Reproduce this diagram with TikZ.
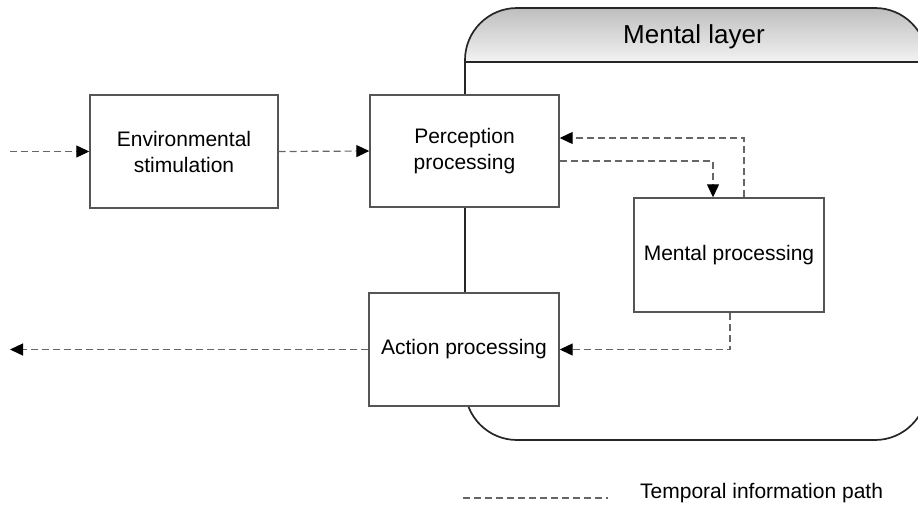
\documentclass[tikz,border=0pt]{standalone}
\usepackage{fontspec}
\setmainfont{Liberation Sans}
\usetikzlibrary{arrows.meta}

\definecolor{boxline}{HTML}{555555}
\definecolor{pathline}{HTML}{666666}
\definecolor{headtop}{HTML}{BEBEBE}
\definecolor{headbot}{HTML}{F3F3F3}

\tikzset{
  procbox/.style={draw=boxline, line width=1.4pt, fill=white, inner sep=0pt,
    align=center, font=\fontsize{21}{26}\selectfont},
  flow/.style={draw=pathline, line width=1.2pt, dash pattern=on 7pt off 4pt,
    -{Triangle[length=13pt,width=12pt,color=black]}},
  legendline/.style={draw=pathline, line width=1.1pt, dash pattern=on 7pt off 4pt},
  layerline/.style={draw=black!85, line width=1.7pt},
}

\begin{document}
\begin{tikzpicture}[x=1pt, y=-1pt]
  \useasboundingbox (0,0) rectangle (918,506);
  \fill[white] (0,0) rectangle (918,506);

  % mental layer container with shaded header
  \begin{scope}
    \clip[rounded corners=52pt] (465,8) rectangle (927,440);
    \shade[top color=headtop, bottom color=headbot] (465,8) rectangle (927,62);
  \end{scope}
  \draw[layerline, rounded corners=52pt] (465,8) rectangle (927,440);
  \draw[layerline] (465,62) -- (927,62);
  \node[anchor=base, font=\fontsize{26}{30}\selectfont] (layer) at (694,43) {Mental layer};

  % processing blocks
  \node[procbox, minimum width=188pt, minimum height=113pt] (env)  at (184,151.5) {Environmental\\stimulation};
  \node[procbox, minimum width=189pt, minimum height=112pt] (perc) at (464.5,151) {Perception\\processing};
  \node[procbox, minimum width=190pt, minimum height=114pt] (ment) at (729,255) {Mental processing};
  \node[procbox, minimum width=190pt, minimum height=113pt] (act)  at (464,349.5) {Action processing};

  % information paths
  \coordinate (inL)  at (10,151.5);
  \coordinate (outL) at (10,349.5);
  \draw[flow] (inL) -- (env.west);
  \draw[flow] (env.east) -- (perc.west);
  \draw[flow] ([yshift=-10pt]perc.east) -| ([xshift=-16pt]ment.north);
  \draw[flow] ([xshift=15pt]ment.north) |- ([yshift=13pt]perc.east);
  \draw[flow] ([xshift=1pt]ment.south) |- (act.east);
  \draw[flow] (act.west) -- (outL);

  % legend
  \coordinate (lgA) at (463,498);
  \coordinate (lgB) at (608,498);
  \draw[legendline] (lgA) -- (lgB);
  \node[anchor=base west, inner sep=0pt, font=\fontsize{21}{26}\selectfont] (lgtext) at (640,498) {Temporal information path};
\end{tikzpicture}
\end{document}
